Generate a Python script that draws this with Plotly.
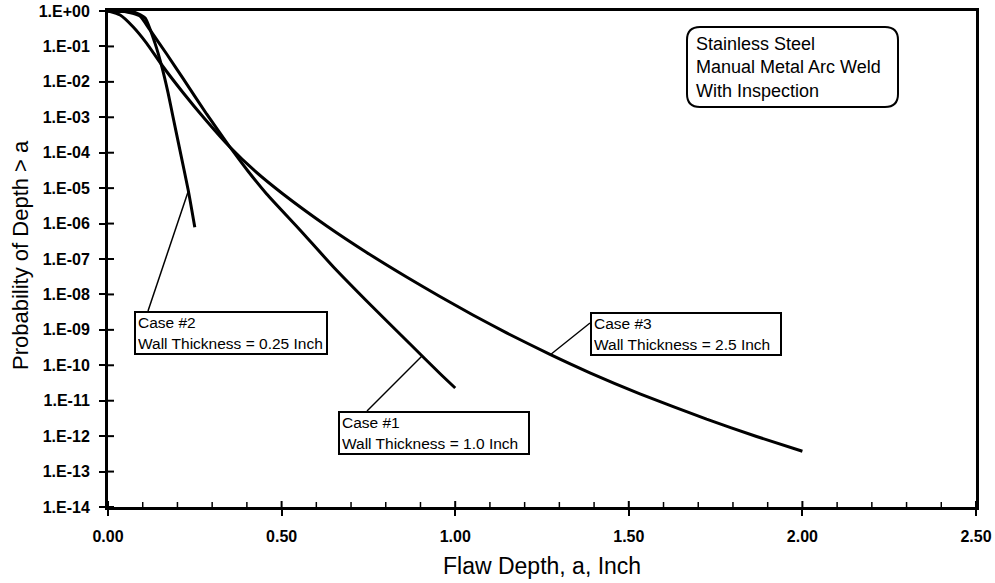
import math
import plotly.graph_objects as go

# ---------------- data ----------------
case1_depth = [0.0, 0.049, 0.092, 0.121, 0.169, 0.216, 0.284, 0.351, 0.403, 0.457, 0.553, 0.648, 0.745, 0.870, 0.956, 1.0]
case1_prob = [1.0, 0.968, 0.723, 0.291, 6.11e-2, 1.253e-2, 1.24e-3, 1.45e-4, 3.05e-5, 6.84e-6, 6.59e-7,
              6.15e-8, 6.53e-9, 3.99e-10, 5.87e-11, 2.29e-11]

case2_depth = [0.0, 0.078, 0.107, 0.135, 0.155, 0.173, 0.187, 0.207, 0.231, 0.25]
case2_prob = [1.0, 0.91, 0.63, 0.126, 2.7e-2, 4.9e-3, 1.05e-3, 1.2e-4, 8.9e-6, 7.9e-7]

case3_depth = [0.0, 0.035, 0.072, 0.1115, 0.155, 0.217, 0.279, 0.351, 0.423, 0.504, 0.630, 0.745, 0.860,
               0.956, 1.051, 1.148, 1.273, 1.388, 1.532, 1.724, 1.868, 2.0]
case3_prob = [1.0, 0.771, 0.360, 0.1225, 2.99e-2, 4.85e-3, 8.95e-4, 1.45e-4, 3.05e-5, 6.84e-6, 8.55e-7,
              1.53e-7, 3.10e-8, 8.75e-9, 2.63e-9, 8.22e-10, 2.02e-10, 6.11e-11, 1.56e-11, 3.01e-12,
              9.79e-13, 3.74e-13]

x_tick_vals = [0.0, 0.5, 1.0, 1.5, 2.0, 2.5]
x_tick_labels = ["0.00", "0.50", "1.00", "1.50", "2.00", "2.50"]
x_minor_vals = [0.1, 0.2, 0.3, 0.4, 0.6, 0.7, 0.8, 0.9, 1.1, 1.2, 1.3, 1.4,
                1.6, 1.7, 1.8, 1.9, 2.1, 2.2, 2.3, 2.4]
y_tick_vals = [1e0, 1e-1, 1e-2, 1e-3, 1e-4, 1e-5, 1e-6, 1e-7, 1e-8, 1e-9, 1e-10, 1e-11, 1e-12, 1e-13, 1e-14]
y_tick_labels = ["1.E+00", "1.E-01", "1.E-02", "1.E-03", "1.E-04", "1.E-05", "1.E-06", "1.E-07",
                 "1.E-08", "1.E-09", "1.E-10", "1.E-11", "1.E-12", "1.E-13", "1.E-14"]

case_labels = ["Case #1<br>Wall Thickness = 1.0 Inch",
               "Case #2<br>Wall Thickness = 0.25 Inch",
               "Case #3<br>Wall Thickness = 2.5 Inch"]
info_text = "Stainless Steel<br>Manual Metal Arc Weld<br>With Inspection"

# ---------------- layout geometry ----------------
W, H = 995, 583
L, R, T, B = 108, 19, 11, 76
PW, PH = W - L - R, H - T - B
Y_MIN, Y_MAX = -14, 0


def px(x):
    return (x - L) / PW


def py(y):
    return (T + PH - y) / PH


FONT = "Arial, Liberation Sans, Helvetica, sans-serif"

fig = go.Figure()
for xs, ys in [(case1_depth, case1_prob), (case2_depth, case2_prob), (case3_depth, case3_prob)]:
    fig.add_trace(go.Scatter(x=xs, y=ys, mode="lines",
                             line=dict(color="black", width=3, shape="spline", smoothing=0.5),
                             showlegend=False, hoverinfo="skip"))

tickfont = dict(size=16, weight="bold", family=FONT, color="black")
fig.update_layout(
    width=W, height=H,
    margin=dict(l=L, r=R, t=T, b=B, autoexpand=False),
    paper_bgcolor="white", plot_bgcolor="white",
    font=dict(family=FONT, color="black"),
    xaxis=dict(range=[0, 2.5], tickmode="array", tickvals=x_tick_vals, ticktext=x_tick_labels,
               ticks="outside", ticklen=6, tickwidth=2, tickcolor="black",
               showline=True, linewidth=3, linecolor="black", mirror=True, automargin=False,
               showgrid=False, zeroline=False, ticklabelstandoff=7, tickfont=tickfont),
    yaxis=dict(type="log", range=[Y_MIN, Y_MAX], tickmode="array", tickvals=y_tick_vals, ticktext=y_tick_labels,
               ticks="outside", ticklen=6, tickwidth=2, tickcolor="black",
               showline=True, linewidth=3, linecolor="black", mirror=True, automargin=False,
               showgrid=False, zeroline=False, ticklabelstandoff=6, tickfont=tickfont),
)

annotations = []
annotations.append(dict(text="Flaw Depth, a, Inch", xref="paper", yref="paper", x=0.5, y=0,
                        xanchor="center", yanchor="middle", yshift=-59, showarrow=False,
                        font=dict(size=23, family=FONT, color="black")))
annotations.append(dict(text="Probability of Depth > a", xref="paper", yref="paper", x=0, y=0.5,
                        xanchor="center", yanchor="middle", xshift=-88, yshift=4, textangle=-90,
                        showarrow=False, font=dict(size=22, family=FONT, color="black")))

box_pos = [(338, 411), (134, 311), (590, 312)]
box_w = [184, 186, 184]
for txt, (bx, by), bw in zip(case_labels, box_pos, box_w):
    annotations.append(dict(text=txt, xref="paper", yref="paper", x=px(bx), y=py(by),
                            xanchor="left", yanchor="top", align="left", showarrow=False,
                            width=bw, height=36, borderpad=2, borderwidth=2, bordercolor="black",
                            bgcolor="white", font=dict(size=15.5, family=FONT, color="black")))

annotations.append(dict(text=info_text, xref="paper", yref="paper", x=px(694), y=py(67.5),
                        xanchor="left", yanchor="middle", align="left", showarrow=False,
                        font=dict(size=18, family=FONT, color="black")))
fig.update_layout(annotations=annotations)

shapes = []
for v in x_tick_vals:
    shapes.append(dict(type="line", xref="x", yref="paper", x0=v, x1=v, y0=0, y1=6 / PH,
                       line=dict(color="black", width=2)))
for v in x_minor_vals:
    shapes.append(dict(type="line", xref="x", yref="paper", x0=v, x1=v, y0=0, y1=5 / PH,
                       line=dict(color="black", width=1.5)))
for v in y_tick_vals:
    yp = (math.log10(v) - Y_MIN) / (Y_MAX - Y_MIN)
    shapes.append(dict(type="line", xref="paper", yref="paper", x0=0, x1=6 / PW, y0=yp, y1=yp,
                       line=dict(color="black", width=2)))

leaders = [((367, 411), (422, 356)), ((148, 311), (188, 192)), ((590, 323), (550, 355))]
for (x0, y0), (x1, y1) in leaders:
    shapes.append(dict(type="line", xref="paper", yref="paper", x0=px(x0), y0=py(y0), x1=px(x1), y1=py(y1),
                       line=dict(color="black", width=1.5)))

bx0, bx1, by0, by1, rr = 687, 898, 27, 107, 13
path = (f"M {px(bx0 + rr)} {py(by0)} L {px(bx1 - rr)} {py(by0)} "
        f"Q {px(bx1)} {py(by0)} {px(bx1)} {py(by0 + rr)} "
        f"L {px(bx1)} {py(by1 - rr)} Q {px(bx1)} {py(by1)} {px(bx1 - rr)} {py(by1)} "
        f"L {px(bx0 + rr)} {py(by1)} Q {px(bx0)} {py(by1)} {px(bx0)} {py(by1 - rr)} "
        f"L {px(bx0)} {py(by0 + rr)} Q {px(bx0)} {py(by0)} {px(bx0 + rr)} {py(by0)} Z")
shapes.append(dict(type="path", xref="paper", yref="paper", path=path,
                   line=dict(color="black", width=2), fillcolor="rgba(0,0,0,0)", layer="below"))
fig.update_layout(shapes=shapes)

fig.write_html("out.html")
